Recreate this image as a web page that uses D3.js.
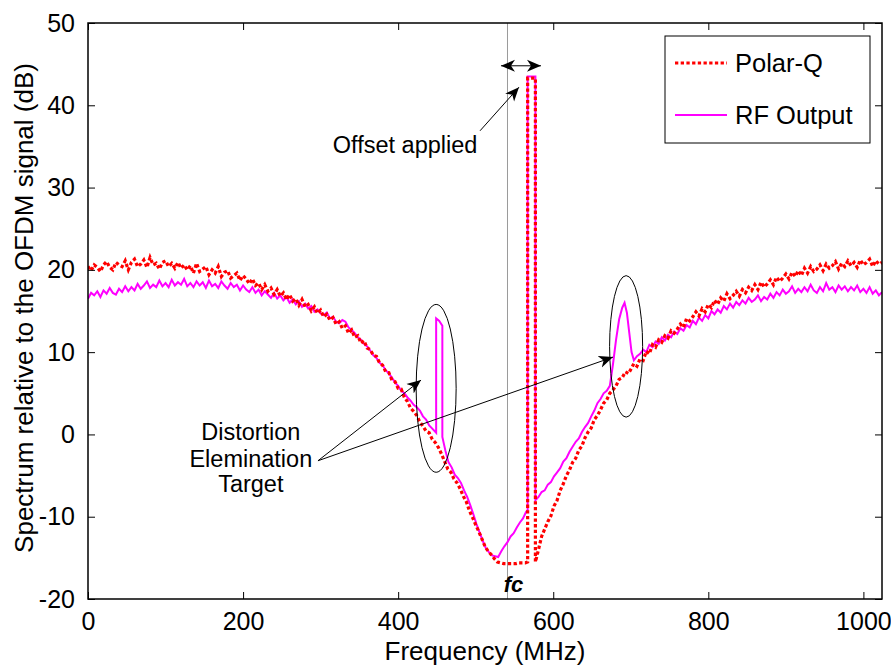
<!DOCTYPE html>
<html>
<head>
<meta charset="utf-8">
<script src="https://cdn.jsdelivr.net/npm/d3@7/dist/d3.min.js"></script>
<style>
    body { margin: 0; background: #fff; }
    svg text { font-family: "Liberation Sans", Arial, Helvetica, sans-serif; fill: #000; }
</style>
</head>
<body>
<svg id="chart" width="891" height="666"></svg>
<script>
(function () {
    "use strict";

    // ---- data: [frequency MHz, dB] ----
    var polarQ = [
        [0,20.4],[4,19.9],[8,20.6],[12,20.3],[16,19.8],[20,20.6],[24,21.0],[28,20.3],[32,20.0],[36,20.9],
        [40,20.6],[44,20.4],[48,21.1],[52,20.0],[56,20.9],[60,21.3],[64,20.4],[68,20.7],[72,21.2],[76,20.3],
        [80,21.5],[84,20.6],[88,20.8],[92,20.1],[96,20.9],[100,21.1],[104,20.4],[108,20.8],[112,20.2],[116,20.9],
        [120,20.2],[124,20.6],[128,20.0],[132,20.5],[136,19.6],[140,20.8],[144,19.8],[148,20.1],[152,20.4],[156,19.4],
        [160,20.0],[164,19.6],[168,20.4],[172,19.2],[176,19.7],[180,19.9],[184,19.0],[188,19.3],[192,19.6],[196,18.7],
        [200,19.3],[204,18.9],[208,18.3],[212,18.9],[216,18.1],[220,18.4],[224,17.6],[228,18.2],[232,17.4],[236,17.8],
        [240,17.0],[244,17.6],[248,16.8],[252,17.2],[256,16.4],[260,17.0],[264,16.2],[268,16.5],[272,15.7],[276,16.4],
        [280,15.5],[284,15.8],[288,15.0],[292,15.5],[296,14.7],[300,15.1],[304,14.3],[308,14.6],[312,13.9],[316,14.2],
        [320,13.4],[324,13.7],[328,12.9],[332,13.2],[336,12.3],[340,12.7],[344,11.8],[348,12.0],[352,11.1],[356,11.4],
        [360,10.5],[364,10.3],[368,9.6],[372,9.5],[376,8.7],[380,8.4],[384,7.6],[388,7.5],[392,6.6],[396,6.4],
        [400,5.6],[404,5.5],[408,4.5],[412,4.0],[416,3.2],[420,2.8],[424,2.3],[428,1.5],[432,1.0],[436,0.4],
        [440,0.2],[444,-0.6],[448,-1.0],[452,-1.6],[456,-2.4],[460,-3.3],[464,-4.2],[468,-4.6],[472,-5.4],[476,-5.9],
        [480,-6.6],[484,-7.5],[488,-8.2],[492,-9.3],[496,-10.1],[500,-11.0],[504,-11.8],[508,-12.7],[512,-13.6],[516,-14.2],
        [520,-14.6],[524,-15.1],[528,-15.5],[532,-15.6],[536,-15.7],[540,-15.7],[544,-15.7],[548,-15.7],[552,-15.7],[556,-15.6],
        [560,-15.6],[564,-15.6],[567,-15.5],[567,43.3],[577,43.3],[577,-15.5],[581,-14.0],[585,-12.4],[589,-11.5],[593,-10.6],
        [597,-9.9],[601,-8.7],[605,-8.0],[609,-6.8],[613,-6.0],[617,-5.0],[621,-4.3],[625,-3.4],[629,-2.9],[633,-1.9],
        [637,-1.4],[641,-0.4],[645,0.3],[649,0.8],[653,1.8],[657,2.3],[661,3.0],[665,3.8],[669,4.2],[673,5.0],
        [677,5.4],[681,5.9],[685,6.7],[689,6.9],[693,7.6],[697,7.4],[700,7.9],[704,8.6],[708,8.3],[712,9.2],
        [716,9.0],[720,10.1],[724,9.8],[728,10.9],[732,10.6],[736,11.5],[740,11.2],[744,12.0],[748,11.7],[752,12.6],
        [756,12.3],[760,12.8],[764,13.4],[768,13.0],[772,14.1],[776,13.8],[780,14.3],[784,14.9],[788,14.4],[792,15.3],
        [796,14.9],[800,15.8],[804,15.4],[808,16.3],[812,15.8],[816,16.6],[820,16.2],[824,17.1],[828,16.5],[832,16.9],
        [836,17.4],[840,16.8],[844,17.6],[848,17.2],[852,17.9],[856,17.5],[860,18.2],[864,17.6],[868,18.5],[872,17.9],
        [876,18.3],[880,18.8],[884,18.2],[888,19.1],[892,18.6],[896,19.0],[900,19.5],[904,18.9],[908,19.7],[912,19.2],
        [916,19.9],[920,19.3],[924,20.2],[928,19.6],[932,20.4],[936,19.8],[940,20.1],[944,20.6],[948,19.9],[952,20.7],
        [956,20.2],[960,20.5],[964,21.0],[968,20.1],[972,20.8],[976,20.4],[980,21.1],[984,20.5],[988,20.9],[992,20.3],
        [996,21.2],[1000,20.6],[1004,20.9],[1008,21.3],[1012,20.4],[1016,21.1],[1020,20.7],[1024,20.9]
    ];

    var rfOutput = [
        [0,16.5],[4,17.2],[8,16.9],[12,17.4],[16,16.7],[20,17.5],[24,17.1],[28,17.8],[32,17.2],[36,17.0],
        [40,17.7],[44,17.3],[48,18.0],[52,17.4],[56,17.9],[60,17.5],[64,18.3],[68,17.7],[72,18.1],[76,18.6],
        [80,17.8],[84,18.2],[88,17.9],[92,18.7],[96,18.0],[100,18.4],[104,17.9],[108,18.8],[112,18.1],[116,18.5],
        [120,18.2],[124,18.9],[128,18.0],[132,18.4],[136,17.9],[140,18.6],[144,18.1],[148,18.5],[152,17.8],[156,18.7],
        [160,18.0],[164,18.3],[168,17.8],[172,18.6],[176,18.1],[180,17.7],[184,18.4],[188,17.9],[192,18.2],[196,17.5],
        [200,18.1],[204,17.6],[208,17.3],[212,17.9],[216,17.2],[220,17.6],[224,16.9],[228,17.4],[232,17.0],[236,16.6],
        [240,17.2],[244,16.5],[248,16.9],[252,16.3],[256,16.7],[260,16.0],[264,16.4],[268,15.8],[272,16.2],[276,15.5],
        [280,15.9],[284,15.3],[288,15.6],[292,14.9],[296,15.2],[300,14.7],[304,14.5],[308,14.8],[312,14.1],[316,14.3],
        [320,13.7],[324,13.5],[328,13.9],[332,13.7],[336,13.0],[340,12.7],[344,12.3],[348,11.8],[352,11.5],[356,11.0],
        [360,10.7],[364,10.2],[368,9.6],[372,9.3],[376,8.7],[380,8.4],[384,7.8],[388,7.4],[392,6.9],[396,6.3],
        [400,5.9],[404,5.3],[408,5.0],[412,4.5],[416,4.1],[420,3.6],[424,3.3],[428,2.9],[432,2.2],[436,1.8],
        [440,1.1],[444,0.7],[449,0.2],[449,14.1],[453,13.8],[457,13.2],[457,-0.3],[461,-2.0],[465,-3.4],[469,-4.0],
        [473,-4.9],[477,-5.3],[481,-5.9],[485,-6.8],[489,-7.6],[493,-8.6],[497,-9.7],[501,-10.9],[505,-11.9],[509,-12.9],
        [513,-13.8],[517,-14.3],[521,-14.7],[525,-14.8],[529,-14.9],[533,-14.2],[537,-13.6],[541,-13.1],[545,-12.4],[549,-12.0],
        [553,-11.3],[557,-10.7],[561,-10.2],[565,-9.4],[567,-9.2],[567,43.5],[577,43.5],[577,-8.0],[581,-7.6],[585,-7.0],
        [589,-6.8],[593,-6.1],[597,-5.8],[601,-5.1],[605,-4.6],[609,-4.1],[613,-3.3],[617,-2.9],[621,-2.1],[625,-1.5],
        [629,-0.9],[633,-0.5],[637,0.3],[641,0.9],[645,1.4],[649,2.2],[653,2.9],[657,3.8],[661,4.3],[665,5.0],
        [669,5.3],[673,5.9],[677,8.5],[681,11.5],[685,14.0],[689,15.4],[692,16.0],[695,14.8],[698,12.4],[701,10.0],
        [704,9.0],[708,9.5],[712,9.8],[716,10.3],[720,10.0],[724,10.9],[728,10.6],[732,11.3],[736,11.0],[740,11.8],
        [744,11.4],[748,12.1],[752,11.8],[756,12.5],[760,12.2],[764,12.9],[768,12.6],[772,13.3],[776,13.0],[780,13.8],
        [784,13.4],[788,14.2],[792,13.8],[796,14.5],[800,14.1],[804,15.0],[808,14.6],[812,15.2],[816,14.8],[820,15.6],
        [824,15.2],[828,15.9],[832,15.4],[836,16.1],[840,15.7],[844,16.3],[848,15.9],[852,16.6],[856,16.1],[860,16.4],
        [864,16.9],[868,16.2],[872,16.7],[876,16.4],[880,17.1],[884,16.6],[888,17.3],[892,16.9],[896,17.6],[900,17.1],
        [904,17.4],[908,18.0],[912,17.2],[916,17.7],[920,17.3],[924,17.9],[928,17.4],[932,18.2],[936,17.5],[940,17.2],
        [944,17.9],[948,17.4],[952,18.4],[956,17.6],[960,17.9],[964,17.3],[968,18.1],[972,17.6],[976,18.0],[980,17.4],
        [984,17.9],[988,17.5],[992,18.1],[996,17.3],[1000,17.7],[1004,17.2],[1008,17.9],[1012,17.1],[1016,17.5],[1020,16.9],
        [1024,17.3]
    ];

    var xTicks = [0, 200, 400, 600, 800, 1000];
    var yTicks = [-20, -10, 0, 10, 20, 30, 40, 50];
    var fcMHz = 541;

    // annotations, in data units
    var ellipses = [
        { f: 449, db: 5.6, rf: 25.8, rdb: 10.2 },
        { f: 694, db: 10.7, rf: 21.3, rdb: 8.6 }
    ];
    var arrows = [
        { from: [505.6, 36.9], to: [555.8, 42.2], both: false },
        { from: [532.6, 44.8], to: [584.2, 44.8], both: true },
        { from: [296.6, -3.2], to: [429.5, 6.6], both: false },
        { from: [296.6, -3.2], to: [677.1, 9.4], both: false }
    ];
    var notes = [
        { f: 409, db: 34.2, text: "Offset applied" },
        { f: 210, db: -0.7, text: "Distortion" },
        { f: 210, db: -3.95, text: "Elemination" },
        { f: 210, db: -7.0, text: "Target" }
    ];

    var margin = { left: 88, top: 23, right: 9, bottom: 67 };
    var svg = d3.select("#chart");
    var width = +svg.attr("width"), height = +svg.attr("height");

    var x = d3.scaleLinear().domain([0, 1024]).range([margin.left, width - margin.right]);
    var y = d3.scaleLinear().domain([-20, 50]).range([height - margin.bottom, margin.top]);

    var defs = svg.append("defs");
    defs.append("clipPath").attr("id", "plotclip")
        .append("rect")
        .attr("x", x(0)).attr("y", y(50))
        .attr("width", x(1024) - x(0)).attr("height", y(-20) - y(50));

    defs.append("marker")
        .attr("id", "head")
        .attr("viewBox", "-14 -7 16 14")
        .attr("refX", 0).attr("refY", 0)
        .attr("markerUnits", "userSpaceOnUse")
        .attr("markerWidth", 16).attr("markerHeight", 14)
        .attr("orient", "auto-start-reverse")
        .append("path")
        .attr("d", "M0,0L-14,-6L-10,0L-14,6Z")
        .attr("fill", "#000");

    // fc reference line
    svg.append("line")
        .attr("x1", x(fcMHz)).attr("x2", x(fcMHz))
        .attr("y1", y(50)).attr("y2", y(-20))
        .attr("stroke", "#9a9a9a").attr("stroke-width", 1);

    var line = d3.line()
        .x(function (d) { return x(d[0]); })
        .y(function (d) { return y(d[1]); });

    var plot = svg.append("g").attr("clip-path", "url(#plotclip)");

    plot.append("path")
        .datum(rfOutput)
        .attr("d", line)
        .attr("fill", "none")
        .attr("stroke", "#ff00ff")
        .attr("stroke-width", 2);

    plot.append("path")
        .datum(polarQ)
        .attr("d", line)
        .attr("fill", "none")
        .attr("stroke", "#ff0000")
        .attr("stroke-width", 3.2)
        .attr("stroke-dasharray", "3.3,2.4");

    // axes box with inward ticks on all four sides
    function styleAxis(g) {
        g.select(".domain").remove();
        g.selectAll(".tick line").attr("stroke", "#000").attr("stroke-width", 1);
        g.selectAll(".tick text").style("font-size", "25px").attr("fill", "#000");
    }
    function plain(d) { return String(d); }

    svg.append("g")
        .attr("transform", "translate(0," + y(-20) + ")")
        .call(d3.axisBottom(x).tickValues(xTicks).tickFormat(plain).tickSizeInner(-7).tickSizeOuter(0).tickPadding(13))
        .call(styleAxis);
    svg.append("g")
        .attr("transform", "translate(0," + y(50) + ")")
        .call(d3.axisTop(x).tickValues(xTicks).tickSizeInner(-7).tickSizeOuter(0).tickFormat(""))
        .call(styleAxis);
    svg.append("g")
        .attr("transform", "translate(" + x(0) + ",0)")
        .call(d3.axisLeft(y).tickValues(yTicks).tickFormat(plain).tickSizeInner(-7).tickSizeOuter(0).tickPadding(13))
        .call(styleAxis);
    svg.append("g")
        .attr("transform", "translate(" + x(1024) + ",0)")
        .call(d3.axisRight(y).tickValues(yTicks).tickSizeInner(-7).tickSizeOuter(0).tickFormat(""))
        .call(styleAxis);

    svg.append("rect")
        .attr("x", x(0)).attr("y", y(50))
        .attr("width", x(1024) - x(0)).attr("height", y(-20) - y(50))
        .attr("fill", "none").attr("stroke", "#000").attr("stroke-width", 1.5);

    // axis labels
    svg.append("text")
        .attr("x", (x(0) + x(1024)) / 2).attr("y", 660)
        .attr("text-anchor", "middle")
        .style("font-size", "26px")
        .text("Frequency (MHz)");
    svg.append("text")
        .attr("transform", "translate(33," + 308 + ") rotate(-90)")
        .attr("text-anchor", "middle")
        .style("font-size", "26px")
        .text("Spectrum relative to the OFDM signal (dB)");

    svg.append("text")
        .attr("x", x(fcMHz) + 6).attr("y", y(-20) - 7)
        .attr("text-anchor", "middle")
        .style("font-size", "22px").style("font-weight", "bold").style("font-style", "italic")
        .text("fc");

    // annotations
    svg.selectAll(".ell")
        .data(ellipses)
        .enter().append("ellipse")
        .attr("class", "ell")
        .attr("cx", function (d) { return x(d.f); })
        .attr("cy", function (d) { return y(d.db); })
        .attr("rx", function (d) { return x(d.rf) - x(0); })
        .attr("ry", function (d) { return y(0) - y(d.rdb); })
        .attr("fill", "none").attr("stroke", "#000").attr("stroke-width", 1);

    svg.selectAll(".arrow")
        .data(arrows)
        .enter().append("line")
        .attr("class", "arrow")
        .attr("x1", function (d) { return x(d.from[0]); })
        .attr("y1", function (d) { return y(d.from[1]); })
        .attr("x2", function (d) { return x(d.to[0]); })
        .attr("y2", function (d) { return y(d.to[1]); })
        .attr("stroke", "#000").attr("stroke-width", 1)
        .attr("marker-end", "url(#head)")
        .attr("marker-start", function (d) { return d.both ? "url(#head)" : null; });

    svg.selectAll(".note")
        .data(notes)
        .enter().append("text")
        .attr("class", "note")
        .attr("x", function (d) { return x(d.f); })
        .attr("y", function (d) { return y(d.db); })
        .attr("text-anchor", "middle")
        .style("font-size", "23.5px")
        .text(function (d) { return d.text; });

    // legend
    var legend = svg.append("g").attr("transform", "translate(665,36)");
    legend.append("rect")
        .attr("width", 205).attr("height", 107)
        .attr("fill", "#fff").attr("stroke", "#000").attr("stroke-width", 1);
    var entries = [
        { name: "Polar-Q", color: "#ff0000", w: 3.2, dash: "3.3,2.4", dy: 27 },
        { name: "RF Output", color: "#ff00ff", w: 2, dash: null, dy: 79 }
    ];
    entries.forEach(function (e) {
        legend.append("line")
            .attr("x1", 10).attr("x2", 62)
            .attr("y1", e.dy).attr("y2", e.dy)
            .attr("stroke", e.color).attr("stroke-width", e.w)
            .attr("stroke-dasharray", e.dash);
        legend.append("text")
            .attr("x", 70).attr("y", e.dy + 9)
            .style("font-size", "25.5px")
            .text(e.name);
    });
}());
</script>
</body>
</html>
